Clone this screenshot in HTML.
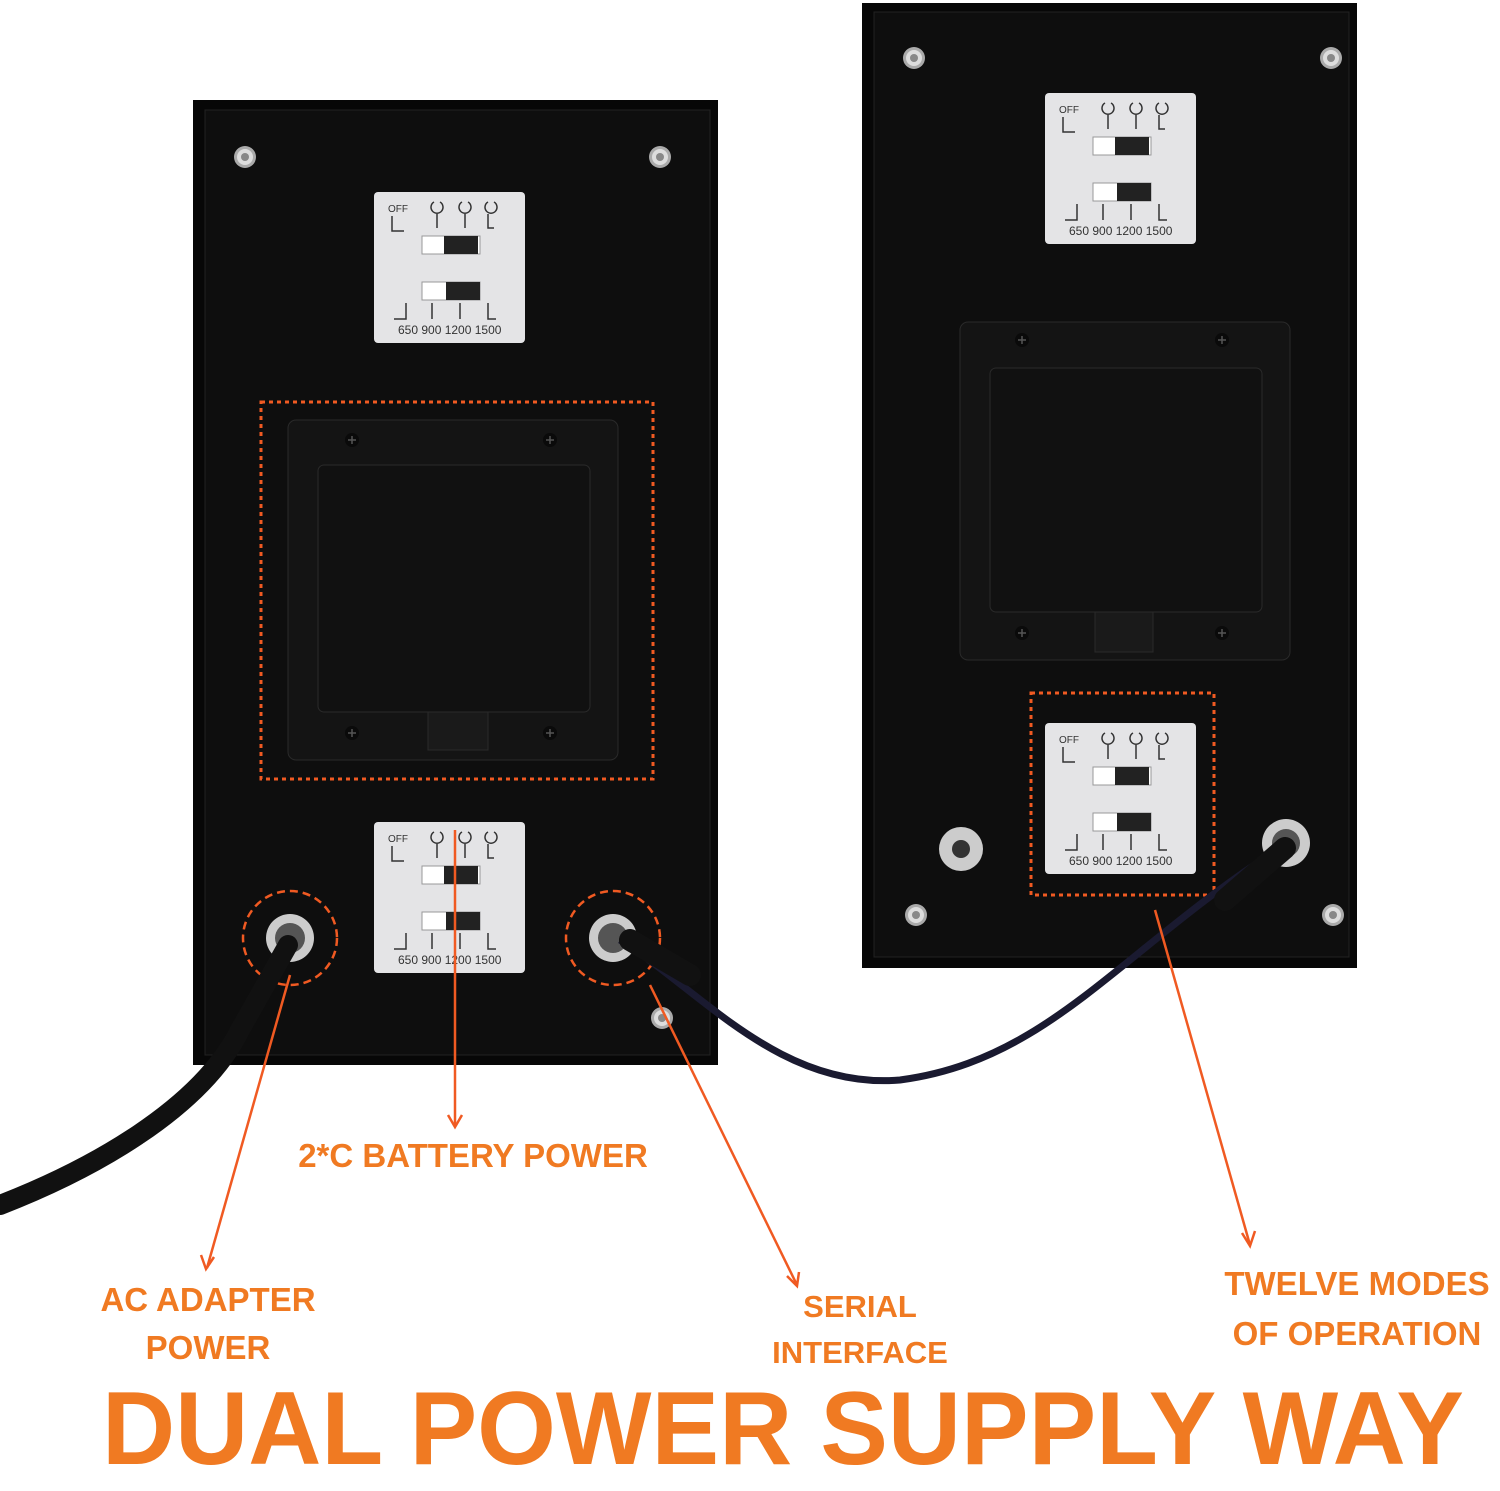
<!DOCTYPE html>
<html><head><meta charset="utf-8"><style>
html,body{margin:0;padding:0;background:#fff}
svg{display:block}
text{font-family:"Liberation Sans",sans-serif;font-weight:bold;fill:#f07a22}
</style></head><body>
<svg width="1500" height="1491" viewBox="0 0 1500 1491" xmlns="http://www.w3.org/2000/svg">
<defs>
<g id="plate">
<rect x="0" y="0" width="151" height="151" rx="4" fill="#e4e4e6"/>
<text x="14" y="20" font-size="10" style="fill:#333;font-weight:normal">OFF</text>
<g stroke="#333" stroke-width="1.5" fill="none">
<path d="M18 24v15h12"/><path d="M60 10a6 6 0 1 0 6 0"/><path d="M88 10a6 6 0 1 0 6 0"/><path d="M114 10a6 6 0 1 0 6 0"/>
<path d="M63 22v14M91 22v14M114 22v14h6"/>
<path d="M32 111v16h-12M58 111v16M86 111v16M114 111v16h8"/>
</g>
<rect x="48" y="44" width="58" height="18" fill="#fff" stroke="#999"/>
<rect x="70" y="44" width="34" height="18" fill="#222"/>
<rect x="48" y="90" width="58" height="18" fill="#fff" stroke="#999"/>
<rect x="72" y="90" width="34" height="18" fill="#222"/>
<text x="24" y="142" font-size="12" style="fill:#333;font-weight:normal">650 900 1200 1500</text>
</g>
<g id="screw"><circle r="11" fill="#aaa"/><circle r="8" fill="#ddd"/><circle r="4" fill="#888"/></g>
<g id="bscrew"><circle r="7" fill="#0a0a0a"/><path d="M-4 0h8M0-4v8" stroke="#555" stroke-width="1.5"/></g>
</defs>
<!-- left box -->
<rect x="193" y="100" width="525" height="965" fill="#070707"/>
<rect x="205" y="110" width="505" height="945" fill="#0e0e0e" stroke="#222"/>
<use href="#screw" x="245" y="157"/><use href="#screw" x="660" y="157"/><use href="#screw" x="662" y="1018"/>
<use href="#plate" x="374" y="192"/>
<rect x="288" y="420" width="330" height="340" rx="8" fill="#141414" stroke="#2a2a2a"/>
<rect x="318" y="465" width="272" height="247" rx="6" fill="#111" stroke="#2a2a2a"/>
<rect x="428" y="712" width="60" height="38" fill="#1a1a1a" stroke="#2a2a2a"/>
<use href="#bscrew" x="352" y="440"/><use href="#bscrew" x="550" y="440"/><use href="#bscrew" x="352" y="733"/><use href="#bscrew" x="550" y="733"/>
<rect x="261" y="402" width="392" height="377" fill="none" stroke="#f05a22" stroke-width="3" stroke-dasharray="4 4"/>
<use href="#plate" x="374" y="822"/>
<circle cx="290" cy="938" r="24" fill="#ccc"/><circle cx="290" cy="938" r="15" fill="#555"/>
<circle cx="613" cy="938" r="24" fill="#ccc"/><circle cx="613" cy="938" r="15" fill="#555"/>
<circle cx="290" cy="938" r="47" fill="none" stroke="#f05a22" stroke-width="2.5" stroke-dasharray="8 5"/>
<circle cx="613" cy="938" r="47" fill="none" stroke="#f05a22" stroke-width="2.5" stroke-dasharray="8 5"/>
<!-- right box -->
<rect x="862" y="3" width="495" height="965" fill="#070707"/>
<rect x="874" y="12" width="475" height="945" fill="#0e0e0e" stroke="#222"/>
<use href="#screw" x="914" y="58"/><use href="#screw" x="1331" y="58"/><use href="#screw" x="916" y="915"/><use href="#screw" x="1333" y="915"/>
<use href="#plate" x="1045" y="93"/>
<rect x="960" y="322" width="330" height="338" rx="8" fill="#141414" stroke="#2a2a2a"/>
<rect x="990" y="368" width="272" height="244" rx="6" fill="#111" stroke="#2a2a2a"/>
<rect x="1095" y="612" width="58" height="40" fill="#1a1a1a" stroke="#2a2a2a"/>
<use href="#bscrew" x="1022" y="340"/><use href="#bscrew" x="1222" y="340"/><use href="#bscrew" x="1022" y="633"/><use href="#bscrew" x="1222" y="633"/>
<use href="#plate" x="1045" y="723"/>
<rect x="1031" y="693" width="183" height="202" fill="none" stroke="#f05a22" stroke-width="3" stroke-dasharray="4 4"/>
<circle cx="961" cy="849" r="22" fill="#ccc"/><circle cx="961" cy="849" r="9" fill="#333"/>
<circle cx="1286" cy="843" r="24" fill="#ccc"/><circle cx="1286" cy="843" r="14" fill="#555"/>
<!-- cables -->
<path d="M0 1205 C90 1170 200 1110 240 1030 L288 945" fill="none" stroke="#111" stroke-width="20" stroke-linecap="round"/>
<path d="M620 940 C700 990 780 1090 900 1080 C1050 1060 1120 950 1280 848" fill="none" stroke="#1a1a30" stroke-width="7"/>
<path d="M630 940 L690 975" stroke="#111" stroke-width="22" stroke-linecap="round"/>
<path d="M1285 848 L1225 900" stroke="#111" stroke-width="22" stroke-linecap="round"/>
<!-- arrows -->
<g stroke="#f05a22" stroke-width="2.5" fill="none">
<path d="M455 830V1125"/><path d="M448 1115l7 12 7-12"/>
<path d="M290 975L207 1268"/><path d="M201 1255l5 14 8-12"/>
<path d="M650 985L797 1285"/><path d="M787 1276l10 10 2-14"/>
<path d="M1155 910L1250 1245"/><path d="M1242 1233l8 13 5-15"/>
</g>
<text x="473" y="1167" font-size="33" text-anchor="middle">2*C BATTERY POWER</text>
<text x="208" y="1311" font-size="33" text-anchor="middle">AC ADAPTER</text>
<text x="208" y="1359" font-size="33" text-anchor="middle">POWER</text>
<text x="860" y="1317" font-size="31" text-anchor="middle">SERIAL</text>
<text x="860" y="1363" font-size="31" text-anchor="middle">INTERFACE</text>
<text x="1357" y="1295" font-size="33" text-anchor="middle">TWELVE MODES</text>
<text x="1357" y="1345" font-size="33" text-anchor="middle">OF OPERATION</text>
<text x="102" y="1464" font-size="104" textLength="1362" lengthAdjust="spacingAndGlyphs">DUAL POWER SUPPLY WAY</text>
</svg>
</body></html>
